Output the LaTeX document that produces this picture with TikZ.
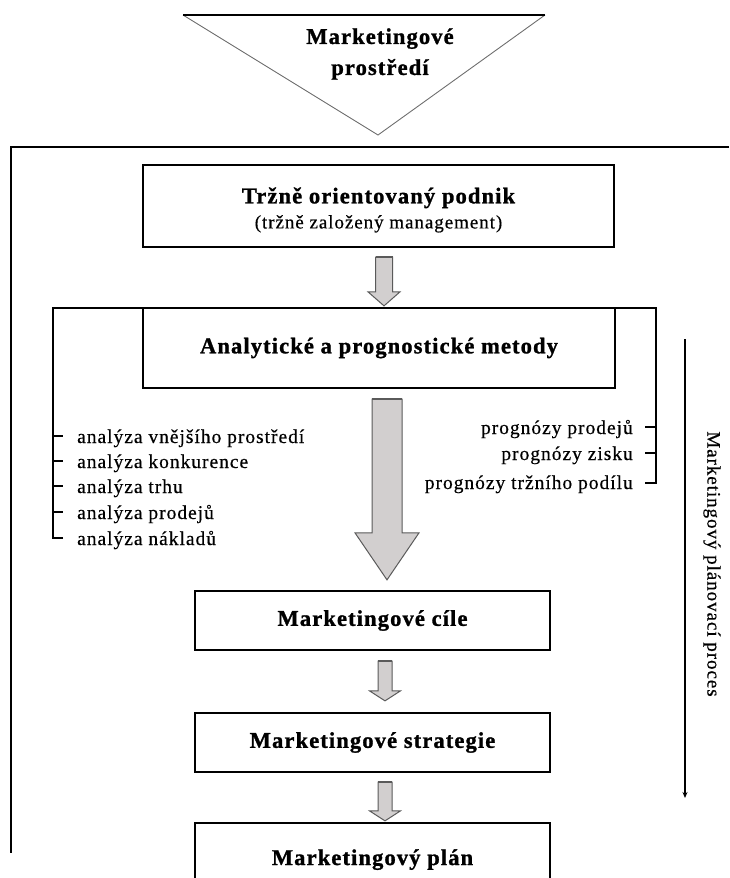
\documentclass[tikz,border=0pt]{standalone}
\usepackage{fontspec}
\setmainfont{Liberation Serif}[LetterSpace=5, BoldFeatures={FakeBold=1.2}]
\newfontfamily\itemfont{Liberation Serif}[LetterSpace=5, FakeBold=0.5]
\usetikzlibrary{calc,arrows.meta}

\definecolor{arrowfill}{RGB}{210,207,207}
\definecolor{arrowline}{RGB}{90,90,90}
\definecolor{sideline}{RGB}{110,110,110}

% Block arrow between two nodes:
% #1 source node, #2 target node, #3 x of the axis, #4 gap below source,
% #5 gap above target, #6 half shaft width, #7 half head width, #8 head length
\newcommand{\blockarrow}[8]{%
  \path[barrow] let \p1=(#1.south), \p2=(#2.north) in
    ({(#3-#6)*1pt},{\y1-#4pt}) -- ({(#3+#6)*1pt},{\y1-#4pt})
    -- ({(#3+#6)*1pt},{\y2+#5pt+#8pt}) -- ({(#3+#7)*1pt},{\y2+#5pt+#8pt})
    -- ({#3*1pt},{\y2+#5pt}) -- ({(#3-#7)*1pt},{\y2+#5pt+#8pt})
    -- ({(#3-#6)*1pt},{\y2+#5pt+#8pt}) -- cycle;
  \draw[line width=1.4pt, arrowline] let \p1=(#1.south) in
    ({(#3-#6)*1pt},{\y1-#4pt}) -- ({(#3+#6)*1pt},{\y1-#4pt});
}

\begin{document}
\begin{tikzpicture}[x=1pt, y=-1pt,
  box/.style={draw, line width=2.3pt, inner sep=0pt, align=center},
  frame/.style={line width=2.8pt},
  tick/.style={line width=2pt},
  barrow/.style={draw=arrowline, fill=arrowfill, line width=1pt, line join=miter},
  title/.style={font=\fontsize{22.5}{26}\selectfont\bfseries},
  item/.style={font=\itemfont\fontsize{19.5}{22}\selectfont, inner sep=0pt},
]
\useasboundingbox (0,0) rectangle (729,878);
\clip (0,0) rectangle (729,878);

% Marketing environment: downward triangle
\coordinate (tl) at (183,15);
\coordinate (tr) at (545,15);
\coordinate (tp) at (378,135);
\draw[sideline, line width=0.9pt] (tl) -- (tp) -- (tr);
\draw[line width=2.8pt] (tl) -- (tr);
\node[align=center, font=\fontsize{22.5}{31}\selectfont\bfseries] (env) at (380,54) {Marketingové\\prostředí};

% Outer frame of the firm
\coordinate (frR) at (729,147);
\coordinate (frC) at (11,147);
\coordinate (frB) at (11,853);
\draw[frame] (frR) -- (frC) -- (frB);

% Main chain of boxes
\node[box, minimum width=471pt, minimum height=82pt] (b1) at (378.5,206) {};
\node[align=center, inner sep=0pt] (b1t) at (378.5,210)
  {{\fontsize{22.5}{26}\selectfont\bfseries Tržně orientovaný podnik}\\[6pt]
   {\itemfont\fontsize{19}{21}\selectfont (tržně založený management)}};
\node[box, title, minimum width=472pt, minimum height=80pt] (b2) at (379,348)
  {Analytické a prognostické metody};
\node[box, title, minimum width=355pt, minimum height=59pt] (b3) at (372.5,620.5)
  {Marketingové cíle};
\node[box, title, minimum width=355pt, minimum height=59pt] (b4) at (372.5,742.5)
  {Marketingové strategie};
\node[box, minimum width=355pt, minimum height=80pt] (b5) at (372.5,863) {};
\node[title, anchor=base] (b5t) at (372.5,865) {Marketingový plán};

% Bracket around the analytical methods
\coordinate (brL) at (53,538);
\coordinate (brTL) at (53,308);
\coordinate (brTR) at (656,308);
\coordinate (brR) at (656,483);
\draw[frame, line width=2.5pt] ($(brL)+(10,0)$) -- (brL) -- (brTL) -- (brTR) -- (brR) -- ($(brR)+(-11,0)$);
\foreach \y in {436,461,486,512} \draw[tick] (53,\y) -- (63,\y);
\foreach \y in {427,453} \draw[tick] (645,\y) -- (656,\y);

% Analyses (left)
\node[item, anchor=base west] (a1) at (77,443) {analýza vnějšího prostředí};
\node[item, anchor=base west] (a2) at (77,468) {analýza konkurence};
\node[item, anchor=base west] (a3) at (77,493) {analýza trhu};
\node[item, anchor=base west] (a4) at (77,519) {analýza prodejů};
\node[item, anchor=base west] (a5) at (77,545) {analýza nákladů};

% Forecasts (right)
\node[item, anchor=base east] (p1) at (633,434) {prognózy prodejů};
\node[item, anchor=base east] (p2) at (633,460) {prognózy zisku};
\node[item, anchor=base east] (p3) at (633,489) {prognózy tržního podílu};

% Block arrows between the boxes
\blockarrow{b1}{b2}{384}{9}{1}{8.5}{16}{14}
\blockarrow{b2}{b3}{387}{10}{10}{15}{32}{47}
\blockarrow{b3}{b4}{385}{10}{11}{7}{15.5}{10}
\blockarrow{b4}{b5}{385}{9}{1}{7}{15.5}{10}

% Planning process axis
\coordinate (axT) at (685,339);
\coordinate (axB) at (685,798);
\draw[line width=1.6pt, -{Stealth[length=6pt, width=5pt]}] (axT) -- (axB);
\node[item, font=\itemfont\fontsize{19}{22}\selectfont, rotate=-90] (proc) at (712,564) {Marketingový plánovací proces};
\end{tikzpicture}
\end{document}
